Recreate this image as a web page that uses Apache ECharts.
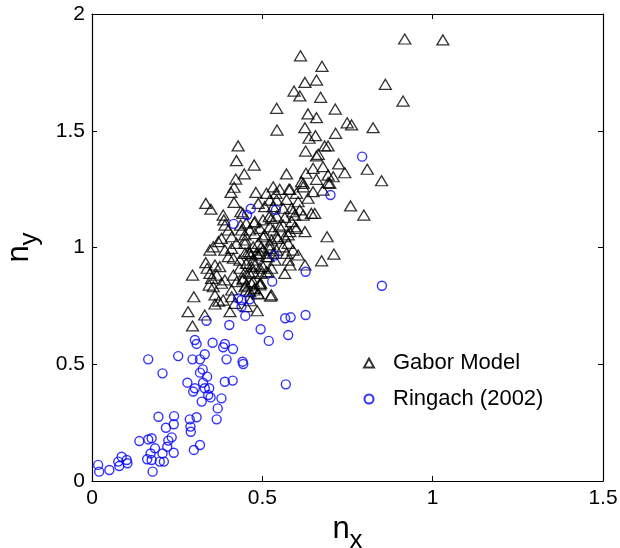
<!DOCTYPE html>
<html lang="en">
<head>
    <meta charset="UTF-8">
    <title>n_x vs n_y</title>
    <script src="https://cdn.jsdelivr.net/npm/echarts@6/dist/echarts.min.js"></script>
    <style>
        *{margin:0;padding:0;box-sizing:border-box;}
        body,html{width:620px;height:548px;background:#fff;}
        #main{width:620px;height:548px;}
    </style>
</head>
<body>
<div id="main"></div>
<script>
    // Gabor model points (n_x, n_y)
    var gaborX=[0.918,1.030,0.612,0.675,0.625,0.659,0.593,0.610,0.671,0.861,0.913,0.542,0.634,0.659,0.714,0.543,0.625,0.749,0.762,0.825,
        0.656,0.637,0.715,0.627,0.683,0.693,0.659,0.664,0.724,0.742,0.808,0.850,0.678,0.649,0.571,0.628,0.708,0.659,0.615,0.693,
        0.581,0.551,0.532,0.620,0.678,
        0.429,0.424,0.476,0.447,0.422,0.417,0.408,0.481,0.417,0.334,0.349,0.385,0.387,0.437,0.476,0.436,0.578,0.540,0.512,0.522,
        0.542,0.571,0.600,0.488,0.507,0.561,0.586,0.595,0.520,0.542,0.566,0.586,0.522,0.561,0.595,0.390,0.400,0.439,0.463,0.449,
        0.493,0.507,0.532,0.542,0.566,0.581,0.380,0.410,0.424,0.356,0.371,0.346,0.390,0.410,0.449,0.473,0.488,0.502,0.522,0.532,
        0.561,0.576,0.590,0.483,0.459,
        0.759,0.798,0.690,0.710,0.674,0.620,0.644,0.654,0.590,0.610,0.600,0.625,0.576,0.571,0.605,0.576,0.581,0.625,0.566,0.527,
        0.493,0.443,0.453,0.478,0.502,0.527,0.532,0.551,0.478,0.502,0.527,0.546,0.449,0.497,0.522,0.542,0.463,0.488,0.512,0.537,
        0.453,0.478,0.502,0.527,0.449,0.473,0.497,0.517,0.443,0.473,0.493,0.453,
        0.295,0.299,0.282,0.295,0.331,0.405,0.485,0.524,0.495,0.334,0.338,0.361,0.375,0.346,0.366,0.351,0.344,0.356,0.380,0.361,
        0.385,0.372,0.410,0.419,0.400,0.415,0.434,0.449,0.468,0.493,0.517,0.434,0.415,0.425,0.444,0.453,0.468,0.478,0.487,0.463,
        0.410,0.390,0.463,0.493,0.512,0.468,0.473,0.361,0.453,0.449,0.475,0.488,0.465,
        0.620,0.634,0.605,0.649,0.698,0.693];
    var gaborY=[1.893,1.889,1.821,1.776,1.707,1.717,1.670,1.649,1.643,1.699,1.627,1.596,1.572,1.556,1.593,1.503,1.513,1.534,1.525,1.513,
        1.479,1.468,1.489,1.413,1.435,1.435,1.392,1.399,1.358,1.320,1.335,1.286,1.346,1.339,1.315,1.318,1.303,1.292,1.282,1.278,
        1.249,1.249,1.260,1.260,1.246,
        1.435,1.372,1.353,1.315,1.293,1.258,1.236,1.236,1.193,1.189,1.164,1.139,1.118,1.153,1.106,1.096,1.249,1.232,1.232,1.203,
        1.203,1.206,1.232,1.189,1.175,1.168,1.168,1.139,1.132,1.135,1.129,1.111,1.089,1.096,1.089,1.096,1.075,1.075,1.075,1.054,
        1.082,1.054,1.075,1.046,1.046,1.068,1.039,1.046,1.018,1.003,1.025,0.989,0.989,0.996,1.032,1.003,1.018,0.989,1.011,0.975,
        1.003,1.018,0.989,0.975,0.982,
        1.178,1.139,1.046,0.972,0.943,1.139,1.146,1.146,1.153,1.161,1.082,1.068,1.054,0.975,0.968,0.946,0.925,0.925,0.889,0.797,
        0.847,1.146,1.104,1.111,1.118,1.125,1.175,1.089,1.060,1.046,1.032,1.039,1.018,1.003,0.996,0.989,0.975,0.968,0.961,0.946,
        0.932,0.925,0.918,0.911,0.896,0.896,0.889,0.896,0.861,0.854,0.840,0.818,
        0.882,0.789,0.725,0.664,0.711,0.725,0.729,0.792,0.847,0.935,0.911,0.925,0.918,0.889,0.882,0.868,0.839,0.832,0.847,0.797,
        0.775,0.770,0.789,0.761,0.961,0.954,0.946,0.975,0.968,0.975,0.961,0.911,0.882,0.854,0.868,0.839,0.847,0.825,0.804,0.811,
        0.818,0.861,0.889,0.911,0.896,0.918,0.946,0.758,0.747,0.832,0.818,0.801,0.772,
        1.275,1.211,1.196,1.239,1.275,1.310];

    // Ringach (2002) points (n_x, n_y)
    var ringachX=[0.018,0.021,0.051,0.077,0.087,0.080,0.102,0.104,0.139,0.165,0.175,0.165,0.207,0.253,0.195,0.241,0.217,0.240,0.234,0.224,
        0.221,0.185,0.172,0.162,0.175,0.199,0.211,0.207,0.240,0.178,0.299,0.317,0.287,0.289,0.290,0.307,0.280,0.297,0.302,0.295,
        0.317,0.331,0.302,0.307,0.354,0.390,0.385,0.414,0.395,0.442,0.444,0.317,0.325,0.338,0.326,0.331,0.344,0.341,0.348,0.322,
        0.380,0.369,0.366,0.390,0.413,0.336,0.403,0.495,0.519,0.450,0.567,0.576,0.569,0.529,0.583,0.627,0.851,0.463,0.439,0.429,
        0.439,0.793,0.700,0.466,0.455,0.416,0.540,0.535,0.627];
    var ringachY=[0.069,0.040,0.047,0.083,0.104,0.064,0.090,0.076,0.171,0.178,0.183,0.521,0.461,0.535,0.275,0.278,0.228,0.243,0.187,0.173,
        0.147,0.140,0.118,0.093,0.090,0.083,0.083,0.118,0.121,0.040,0.133,0.154,0.264,0.233,0.211,0.273,0.421,0.383,0.397,0.521,
        0.521,0.543,0.604,0.587,0.592,0.587,0.573,0.565,0.521,0.511,0.501,0.464,0.478,0.447,0.421,0.397,0.397,0.368,0.358,0.340,
        0.354,0.311,0.264,0.425,0.430,0.686,0.668,0.650,0.600,0.707,0.697,0.625,0.414,0.854,0.701,0.711,0.836,0.778,0.747,0.782,
        0.775,1.389,1.225,1.166,1.139,1.101,1.161,0.965,0.896];

    function pairs(xs,ys){
        var out=[];
        for(var i=0;i<xs.length;i++){out.push([xs[i],ys[i]]);}
        return out;
    }

    var font='"Liberation Sans", Arial, sans-serif';
    var lab={color:'#000',fontSize:21,fontFamily:font};
    var boxAxis={
        axisLine:{show:true,onZero:false,lineStyle:{color:'#000',width:1.2}},
        axisTick:{show:true,inside:true,length:5,lineStyle:{color:'#000',width:1}},
        splitLine:{show:false}
    };
    var nameRich={n:{fontSize:31,fontFamily:font,color:'#000'},s:{fontSize:26,fontFamily:font,color:'#000',padding:[22,0,0,0]}};

    var myChart=echarts.init(document.getElementById('main'));
    var option={
        animation:false,
        backgroundColor:'#fff',
        grid:{left:92,right:17,top:14,bottom:67,containLabel:false,outerBoundsMode:'none'},
        legend:{
            orient:'vertical',
            left:358,top:347,
            itemWidth:10,itemHeight:9,itemGap:14,
            textStyle:{color:'#000',fontSize:22,fontFamily:font,padding:[0,0,0,14],lineHeight:22},
            data:['Gabor Model','Ringach (2002)']
        },
        xAxis:[
            Object.assign({type:'value',position:'bottom',min:0,max:1.5,interval:0.5,
                axisLabel:Object.assign({margin:7,formatter:function(v){return String(v);}},lab),
                name:'{n|n}{s|x}',nameLocation:'middle',nameGap:21,
                nameTextStyle:{rich:nameRich}
            },boxAxis),
            Object.assign({type:'value',position:'top',min:0,max:1.5,interval:0.5,axisLabel:{show:false}},boxAxis)
        ],
        yAxis:[
            Object.assign({type:'value',position:'left',min:0,max:2,interval:0.5,
                axisLabel:Object.assign({margin:7,formatter:function(v){return String(v);}},lab),
                name:'{n|n}{s|y}',nameLocation:'middle',nameGap:49,nameRotate:90,
                nameTextStyle:{rich:nameRich}
            },boxAxis),
            Object.assign({type:'value',position:'right',min:0,max:2,interval:0.5,axisLabel:{show:false}},boxAxis)
        ],
        series:[
            {
                name:'Gabor Model',type:'scatter',symbol:'triangle',symbolSize:[12,10],
                itemStyle:{color:'rgba(0,0,0,0)',borderColor:'#000',borderWidth:1.3},
                data:pairs(gaborX,gaborY)
            },
            {
                name:'Ringach (2002)',type:'scatter',symbol:'circle',symbolSize:9,
                itemStyle:{color:'rgba(0,0,0,0)',borderColor:'#0000ff',borderWidth:1.4},
                data:pairs(ringachX,ringachY)
            }
        ]
    };
    myChart.setOption(option);
</script>
</body>
</html>
